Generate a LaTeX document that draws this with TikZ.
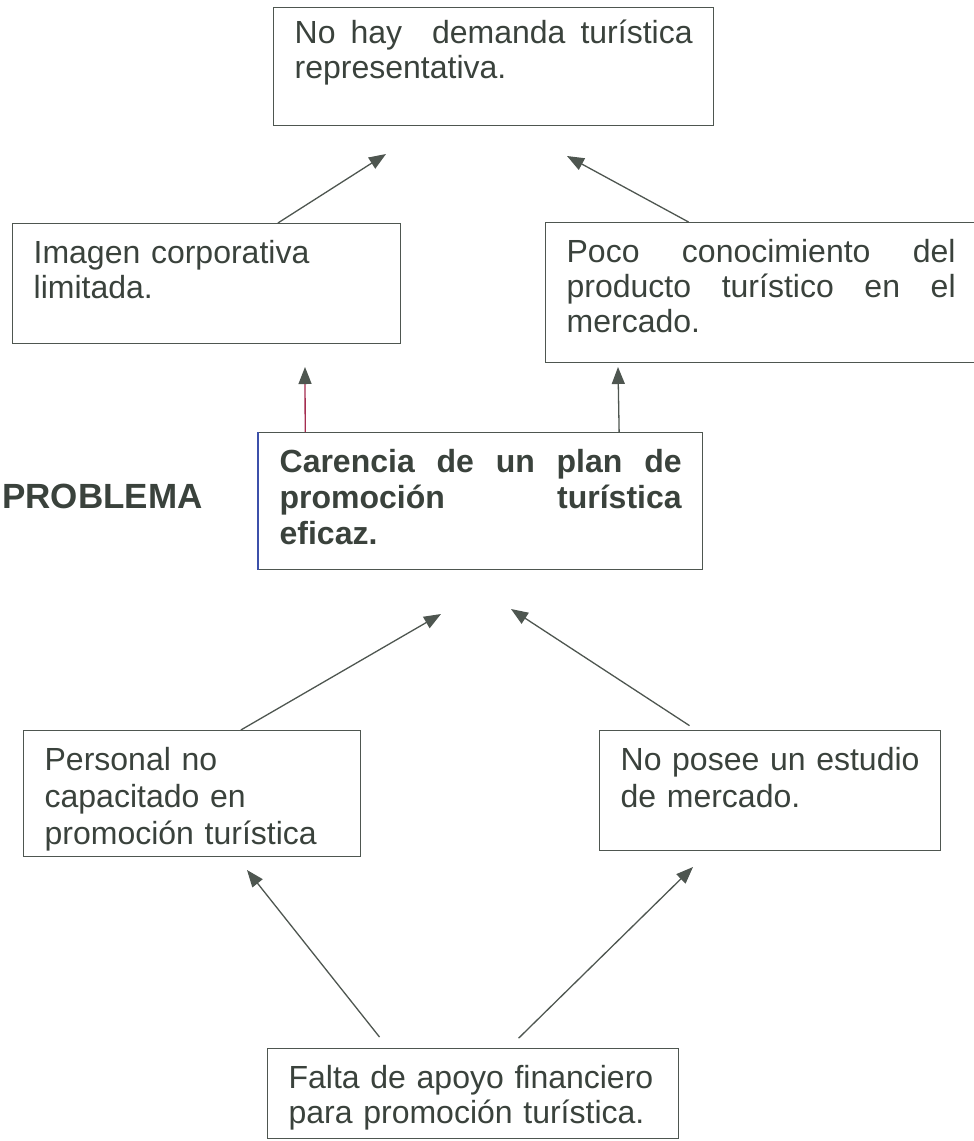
\documentclass[tikz,border=0pt]{standalone}
\usepackage{fontspec}
\setmainfont{Liberation Sans}
\usetikzlibrary{arrows.meta,calc}

\definecolor{tinta}{RGB}{58,66,60}
\definecolor{borde}{RGB}{78,86,80}
\definecolor{rojizo}{RGB}{165,45,80}
\definecolor{azulado}{RGB}{60,80,170}

\tikzset{
  caja/.style={draw=borde, line width=1.3pt, anchor=north west, inner xsep=21pt, inner ysep=6pt,
    text=tinta, font=\fontsize{32}{35}\selectfont},
  flecha/.style={draw=borde, line width=1.3pt, -{Triangle[length=17pt,width=13pt,color=borde]}},
}

\begin{document}
\begin{tikzpicture}[x=1pt,y=-1pt]
  \useasboundingbox (0,0) rectangle (974,1141);

  % efectos
  \node[caja, text width=398pt, align=justify, text height=30pt, text depth=76pt] (demanda) at (273,7)
    {No hay \ demanda turística\linebreak representativa.};
  \node[caja, text width=346pt, align=left, text height=34pt, text depth=74pt] (imagen) at (12,223)
    {Imagen corporativa\\limitada.};
  \node[caja, text width=389pt, align=justify, text height=34pt, text depth=94pt] (conocimiento) at (545,222)
    {Poco conocimiento del\linebreak producto turístico en el\linebreak mercado.};

  % problema central
  \node[anchor=base east, text=tinta, font=\fontsize{35}{36}\selectfont\bfseries] (problema) at (206,508) {PROBLEMA};
  \node[caja, text width=402pt, align=justify, text height=34pt, text depth=91pt,
    font=\fontsize{32}{36}\selectfont\bfseries] (carencia) at (258,432)
    {Carencia de un plan de\linebreak promoción turística\linebreak eficaz.};
  \draw[azulado, line width=1.3pt] (carencia.north west) -- (carencia.south west);

  % causas
  \node[caja, text width=295pt, align=left, text height=34pt, text depth=80pt,
    font=\fontsize{32}{37}\selectfont] (personal) at (23,730)
    {Personal no\\capacitado en\\promoción turística};
  \node[caja, text width=299pt, align=left, text height=34pt, text depth=74pt,
    font=\fontsize{32}{37}\selectfont] (estudio) at (599,730)
    {No posee un estudio\\de mercado.};
  \node[caja, text width=369pt, align=left, text height=34pt, text depth=44pt] (financiero) at (267,1048)
    {Falta de apoyo financiero\\para promoción turística.};

  % puntas de las flechas
  \coordinate (p1) at (386,154);
  \coordinate (p2) at (567,156);
  \coordinate (p3) at (305,367);
  \coordinate (p4) at (618,367);
  \coordinate (p5) at (441,614);
  \coordinate (p6) at (511,609);
  \coordinate (p7) at (247,870);
  \coordinate (p8) at (693,867);

  \draw[flecha] ($(imagen.north west)!.683!(imagen.north east)$) -- (p1);
  \draw[flecha] ($(conocimiento.north west)!.332!(conocimiento.north east)$) -- (p2);
  \draw[flecha, draw=rojizo] ($(carencia.north west)!.106!(carencia.north east)$) -- (p3);
  \draw[flecha] ($(carencia.north west)!.811!(carencia.north east)$) -- (p4);
  \draw[flecha] ($(personal.north west)!.644!(personal.north east)$) -- (p5);
  \draw[flecha, shorten <=8pt] ($(estudio.north west)!.284!(estudio.north east)$) -- (p6);
  \draw[flecha, shorten <=14pt] ($(financiero.north west)!.294!(financiero.north east)$) -- (p7);
  \draw[flecha, shorten <=14pt] ($(financiero.north west)!.586!(financiero.north east)$) -- (p8);
\end{tikzpicture}
\end{document}
